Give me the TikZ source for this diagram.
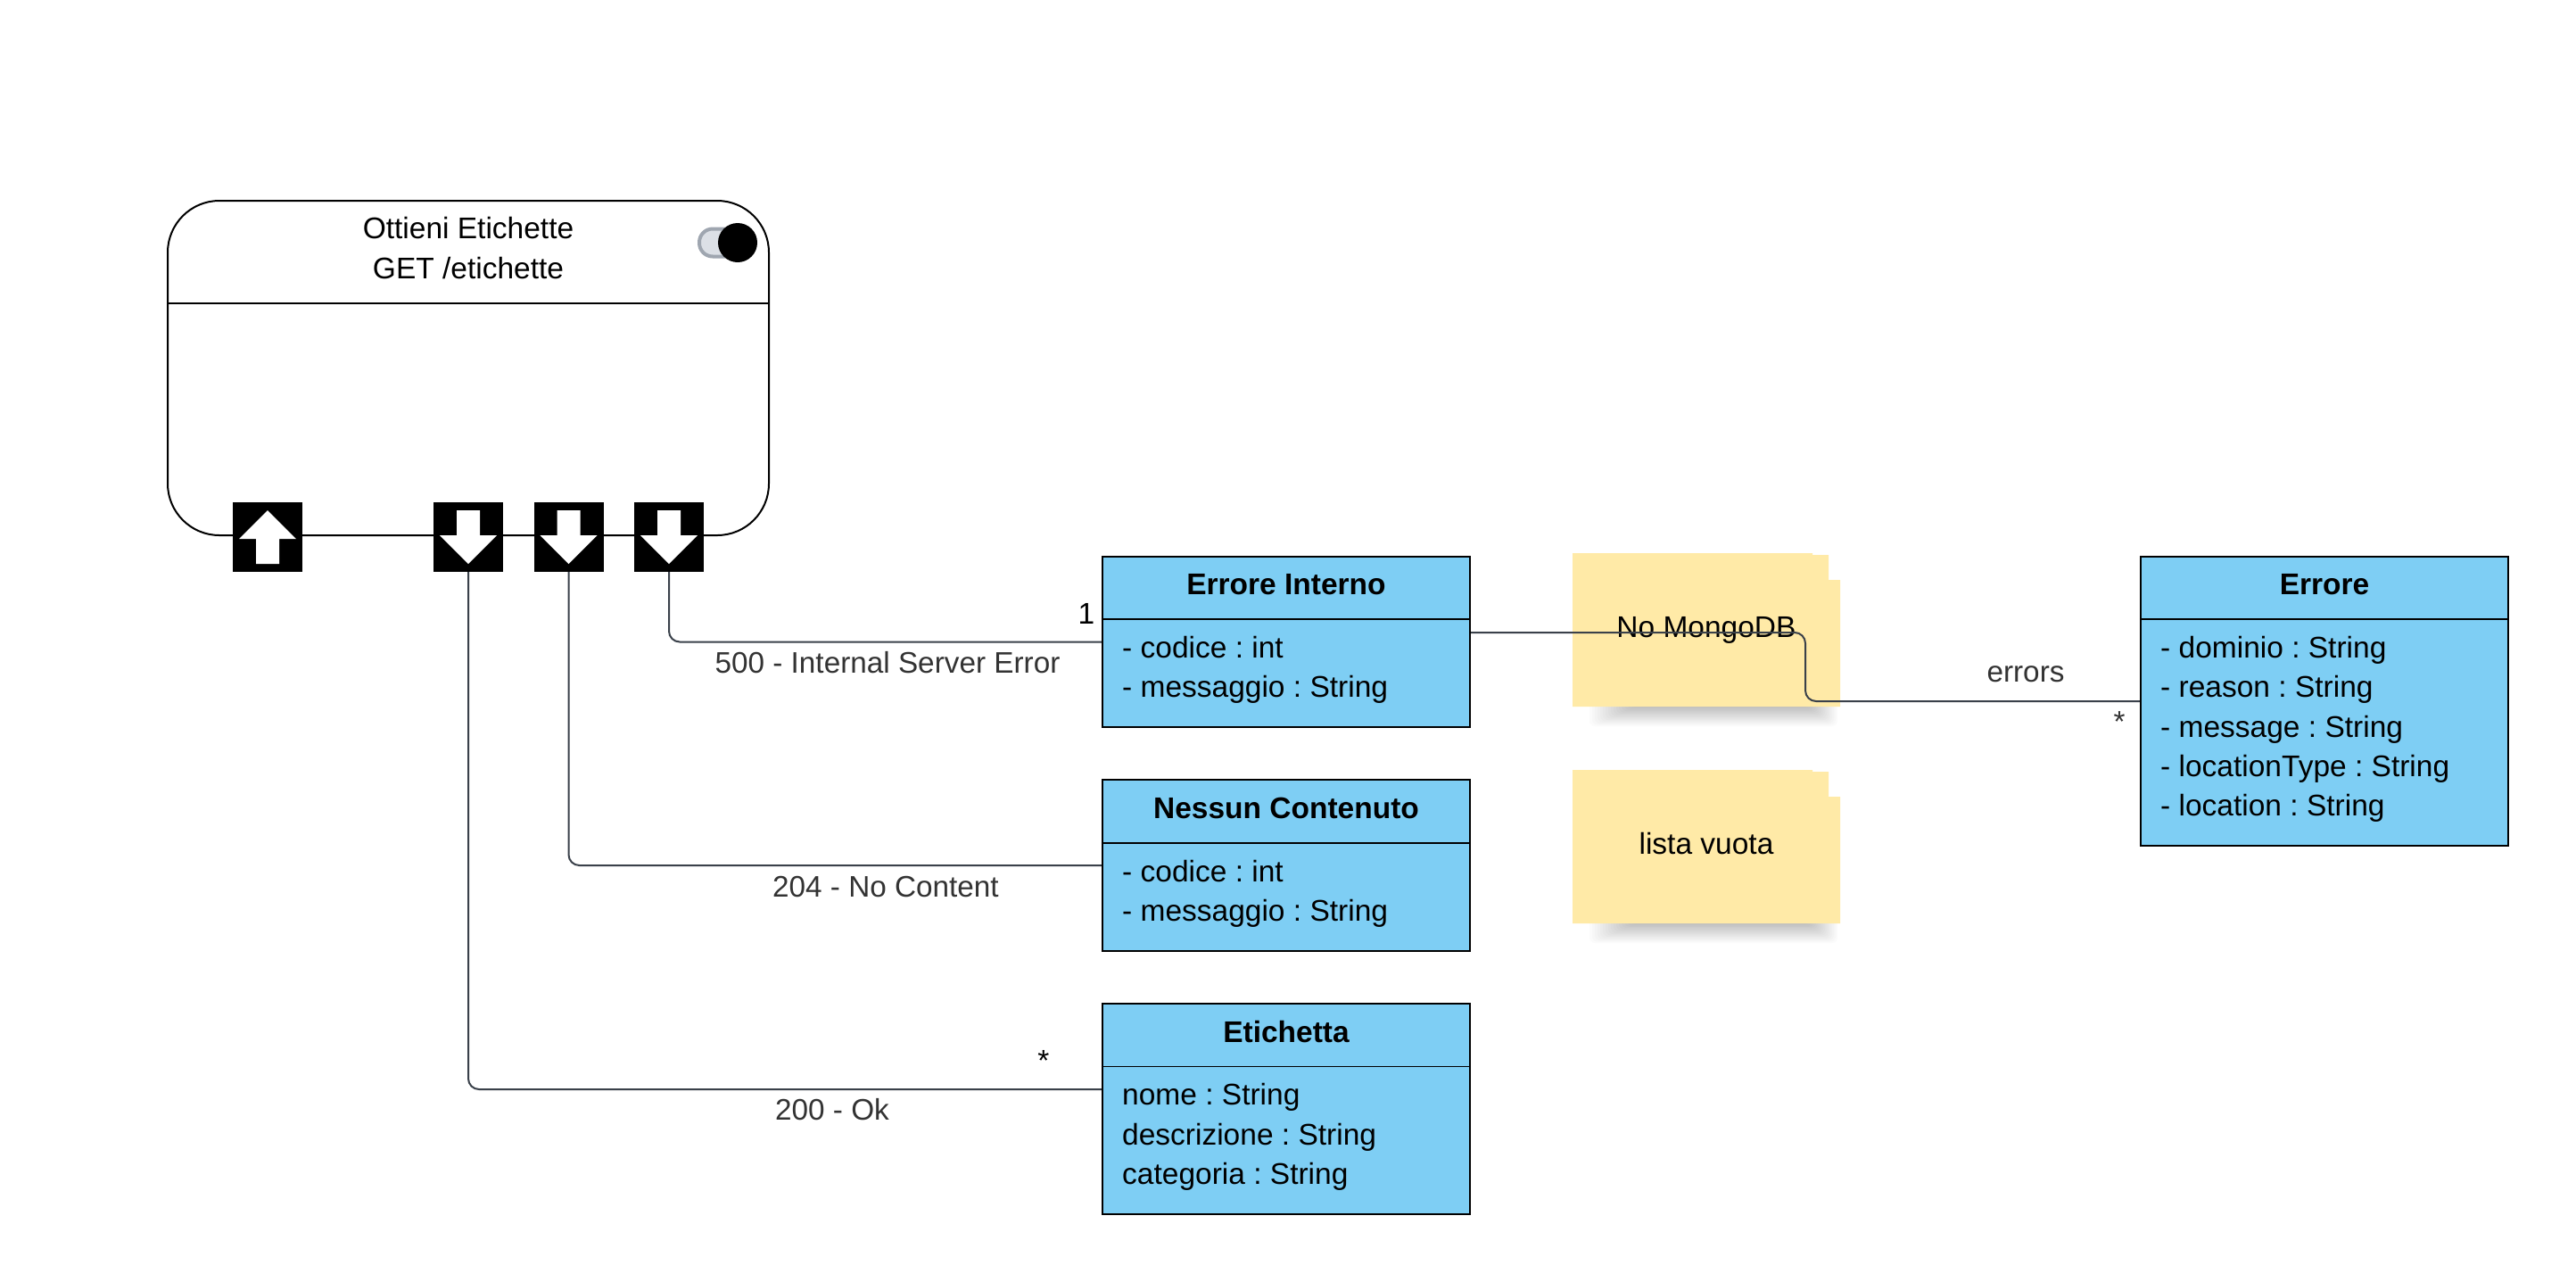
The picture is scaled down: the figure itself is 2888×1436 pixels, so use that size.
\documentclass[tikz,border=0pt]{standalone}
\usepackage{fontspec}
\setmainfont{Liberation Sans}
\frenchspacing
\newcommand\portdown[1]{\fill[white] ([shift={(-13,-30)}]#1.center) -- ++(26,0) -- ++(0,28) -- ++(19,0) -- ++(-32,32) -- ++(-32,-32) -- ++(19,0) -- cycle;}
\newcommand\portup[1]{\fill[white] ([shift={(-13,30)}]#1.center) -- ++(26,0) -- ++(0,-28) -- ++(19,0) -- ++(-32,-32) -- ++(-32,32) -- ++(19,0) -- cycle;}
\newcommand\noteshape[2]{%
  \foreach \i in {0,...,15}{\fill[black,opacity=0.014,rounded corners=6pt] (1782+\i*3,#2-10) rectangle (2060-\i*2,#2+22-\i*1.4);}
  \fill[notefill] (1763,#1) -- (2032,#1) -- (2032,#1+2) -- (2050,#1+2) -- (2050,#1+30) -- (2063,#1+30) -- (2063,#2) -- (1763,#2) -- cycle;}
\definecolor{classblue}{HTML}{7ECEF4}
\definecolor{notefill}{HTML}{FFEAA7}
\definecolor{connline}{HTML}{3A414A}
\definecolor{labelgray}{HTML}{333333}
\definecolor{togglefill}{HTML}{DCE0E6}
\definecolor{toggleline}{HTML}{9FA6B0}
\tikzset{
  x=1pt,y=-1pt,
  txt/.style={font=\fontsize{33.5}{44.4}\selectfont,inner sep=0pt,text=black},
  lbl/.style={txt,font=\fontsize{33.3}{44.4}\selectfont,text=labelgray},
  classbox/.style={draw=black,line width=2.4pt,fill=classblue,minimum width=412pt,inner sep=0pt},
  divider/.style={draw=black,line width=2.4pt},
  ttl/.style={txt,font=\fontsize{33.5}{44.4}\selectfont\bfseries},
  attr/.style={txt,align=left,anchor=west},
  portbox/.style={fill=black,minimum width=78pt,minimum height=78pt,inner sep=0pt},
  conn/.style={draw=connline,line width=2pt,rounded corners=12pt},
}
\begin{document}
\begin{tikzpicture}
\useasboundingbox (0,0) rectangle (2888,1436);
\fill[white] (0,0) rectangle (2888,1436);

% state
\node[draw=black,line width=2pt,fill=white,rounded corners=58pt,minimum width=674pt,minimum height=375pt,inner sep=0pt] (state) at (525,412.5) {};
\draw[black,line width=2pt] (state.west |- 0,340) -- (state.east |- 0,340);
\node[txt,align=center] (stitle) at (525,278) {Ottieni Etichette\\GET /etichette};
\node[draw=toggleline,fill=togglefill,line width=4pt,rounded corners=15pt,minimum width=44pt,minimum height=31pt,inner sep=0pt] (tgl) at (806,272) {};
\node[circle,fill=black,minimum size=44pt,inner sep=0pt] (knob) at (827,272) {};

% ports
\node[portbox] (pin) at (300,602) {};
\node[portbox] (pa) at (525,602) {};
\node[portbox] (pb) at (637.5,602) {};
\node[portbox] (pc) at (750,602) {};
\portup{pin}
\portdown{pa}
\portdown{pb}
\portdown{pc}

% notes
\noteshape{620}{792}
\noteshape{863}{1035}

% classes
\node[classbox,minimum height=191pt] (ei) at (1442,719.5) {};
\draw[divider] (ei.west |- 0,694) -- (ei.east |- 0,694);
\node[ttl] (eit) at (1442,655.5) {Errore Interno};
\node[attr] (eia) at (1258,751) {- codice : int\\- messaggio : String};

\node[classbox,minimum height=192pt] (nc) at (1442,970) {};
\draw[divider] (nc.west |- 0,945) -- (nc.east |- 0,945);
\node[ttl] (nct) at (1442,906) {Nessun Contenuto};
\node[attr] (nca) at (1258,1002) {- codice : int\\- messaggio : String};

\node[classbox,minimum height=236pt] (et) at (1442,1243) {};
\draw[black,line width=1pt] (et.west |- 0,1195) -- (et.east |- 0,1195);
\node[ttl] (ett) at (1442,1156.5) {Etichetta};
\node[attr] (eta) at (1258,1274.5) {nome : String\\descrizione : String\\categoria : String};

\node[classbox,minimum height=324pt] (er) at (2606,786) {};
\draw[divider] (er.west |- 0,694) -- (er.east |- 0,694);
\node[ttl] (ert) at (2606,655.5) {Errore};
\node[attr] (era) at (2422,817.5) {- dominio : String\\- reason : String\\- message : String\\- locationType : String\\- location : String};

% note texts
\node[txt] (n1) at (1913,706) {No MongoDB};
\node[txt] (n2) at (1913,946) {lista vuota};

% connectors
\draw[conn] (pc.south) |- (ei.west);
\draw[conn] (pb.south) |- (nc.west);
\draw[conn] (pa.south) |- ([yshift=22pt]et.west);
\coordinate (bend) at (2024,750);
\draw[conn] ([yshift=10.5pt]ei.east) -| (bend) |- (er.west);

% labels
\node[lbl] (l500) at (995,743) {500 - Internal Server Error};
\node[lbl] (l204) at (993,994) {204 - No Content};
\node[lbl] (l200) at (933,1244) {200 - Ok};
\node[txt] (m1) at (1218,688) {1};
\node[txt] (m2) at (1170,1189) {*};
\node[lbl] (merr) at (2271,756) {errors};
\node[lbl] (m3) at (2376,809) {*};
\end{tikzpicture}
\end{document}
